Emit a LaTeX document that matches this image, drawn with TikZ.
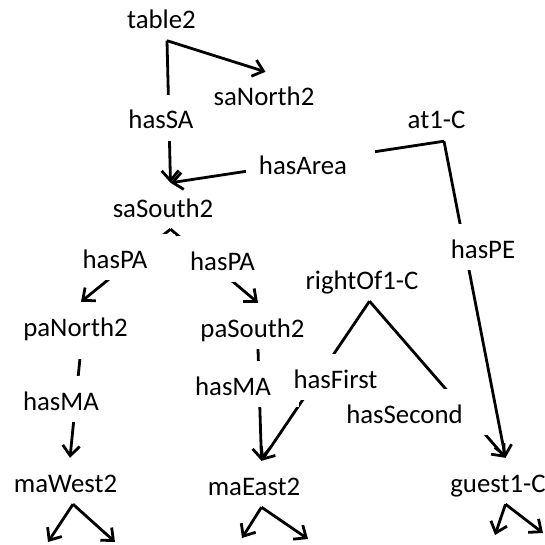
\documentclass[tikz,border=0pt]{standalone}
\usepackage{fontspec}
\setmainfont{Carlito}
\usetikzlibrary{arrows.meta}
\pgfdeclarelayer{edges}
\pgfdeclarelayer{rels}
\pgfsetlayers{edges,rels,main}
\begin{document}
\begin{tikzpicture}[x=1pt,y=-1pt,
  every node/.style={font=\fontsize{26.8pt}{32pt}\selectfont},
  % every label sits in a padded box; edges leave from its bottom and end at its top
  box/.style={anchor=base, inner xsep=13pt, inner ysep=12pt,
    text height=22pt, text depth=0pt, execute at end node={\hspace*{15pt}}},
  ent/.style={box},
  rel/.style={box, fill=white},
  link/.style={line width=2.8pt},
  arc/.style={link, -{Straight Barb[length=10pt,width=17pt]}},
]
\useasboundingbox (0,0) rectangle (544,545);

% entities (top layer)
\node[ent] (table2)   at (169,28.5) {table2};
\node[ent] (saNorth2) at (271.5,106) {saNorth2};
\node[ent] (saSouth2) at (170.5,217) {saSouth2};
\node[ent] (at1C)     at (444,129) {at1-C};
\node[ent] (paNorth2) at (83,336) {paNorth2};
\node[ent] (paSouth2) at (260,337) {paSouth2};
\node[ent] (rightOf)  at (369.5,289) {rightOf1-C};
\node[ent] (maWest2)  at (73,492) {maWest2};
\node[ent] (maEast2)  at (261.5,495) {maEast2};
\node[ent] (guest1C)  at (505.5,492) {guest1-C};

% targets of the outgoing edges below the bottom row
\coordinate (mwL) at (48,542);
\coordinate (mwR) at (115,542);
\coordinate (meL) at (242,538);
\coordinate (meR) at (308,539);
\coordinate (gcL) at (495,535);
\coordinate (gcR) at (543,533);

% edges (bottom layer)
\begin{pgfonlayer}{edges}
\draw[arc] ([xshift=-2pt]table2.south) -- (saSouth2.north);
\draw[arc] ([xshift=-2pt]table2.south) -- ([xshift=-6pt]saNorth2.north);
\draw[arc] (at1C.south) -- (saSouth2.north);
\draw[arc] (at1C.south) -- (guest1C.north);
\draw[arc] (saSouth2.south) -- ([xshift=-2pt]paNorth2.north);
\draw[arc] (saSouth2.south) -- ([xshift=-2pt]paSouth2.north);
\draw[arc, shorten <=11pt] ([xshift=-2pt]paNorth2.south) -- ([xshift=-3pt]maWest2.north);
\draw[arc] ([xshift=-2pt]paSouth2.south) -- (maEast2.north);
\draw[arc] (rightOf.south) -- (maEast2.north);
\draw[arc] (rightOf.south) -- (guest1C.north);
\draw[arc] (maWest2.south) -- (mwL);
\draw[arc] (maWest2.south) -- (mwR);
\draw[arc] (maEast2.south) -- (meL);
\draw[arc] (maEast2.south) -- (meR);
\draw[arc] (guest1C.south) -- (gcL);
\draw[arc] (guest1C.south) -- (gcR);
\end{pgfonlayer}

% relation labels (middle layer, hiding the middle of their edges)
\begin{pgfonlayer}{rels}
\node[rel] (hasSA)     at (168.5,129) {hasSA};
\node[rel] (hasArea)   at (310.5,175) {hasArea};
\node[rel] (hasPE)     at (490.5,258) {hasPE};
\node[rel] (hasPAl)    at (122.5,268) {hasPA};
\node[rel] (hasPAr)    at (230,270) {hasPA};
\node[rel] (hasMAl)    at (68.5,410) {hasMA};
\node[rel] (hasMAr)    at (240.5,395) {hasMA};
\node[rel] (hasFirst)  at (343,388) {hasFirst};
\node[rel] (hasSecond) at (412,423) {hasSecond};
\end{pgfonlayer}
\end{tikzpicture}
\end{document}
